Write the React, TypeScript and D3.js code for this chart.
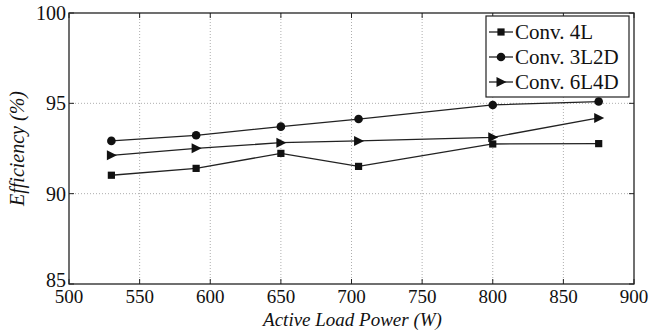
import React from "react";
import * as d3 from "d3";

const powers = [530, 590, 650, 705, 800, 875];
const conv4L = [91.02, 91.4, 92.23, 91.51, 92.75, 92.77];
const conv3L2D = [92.92, 93.23, 93.71, 94.13, 94.91, 95.1];
const conv6L4D = [92.12, 92.51, 92.82, 92.92, 93.12, 94.19];
const seriesNames = ["Conv. 4L", "Conv. 3L2D", "Conv. 6L4D"];
const xTicks = [500, 550, 600, 650, 700, 750, 800, 850, 900];
const yTicks = [85, 90, 95, 100];

const W = 652, H = 330;
const L = 69, R = 634, T = 13, B = 284;
const SERIF = "Liberation Serif";

function Marker({ kind, x, y }: { kind: string; x: number; y: number }) {
  if (kind === "square") return <rect x={x - 3.6} y={y - 3.6} width={7.2} height={7.2} fill="#111" />;
  if (kind === "circle") return <circle cx={x} cy={y} r={4.3} fill="#111" />;
  return <path d={`M${x - 4.5},${y - 5} L${x + 5.5},${y} L${x - 4.5},${y + 5} Z`} fill="#111" />;
}

export default function App() {
  const x = d3.scaleLinear().domain([500, 900]).range([L, R]);
  const y = d3.scaleLinear().domain([85, 100]).range([B, T]);
  const line = d3.line<[number, number]>().x(d => x(d[0])).y(d => y(d[1]));
  const series = [
    { name: seriesNames[0], vals: conv4L, kind: "square" },
    { name: seriesNames[1], vals: conv3L2D, kind: "circle" },
    { name: seriesNames[2], vals: conv6L4D, kind: "triangle" },
  ];
  const legX = 486, legY = 16, legW = 143, legH = 81;
  return (
    <svg width={W} height={H} style={{ position: "absolute", left: 0, top: 0 }}>
      <rect width={W} height={H} fill="#fff" />
      {xTicks.slice(1, -1).map(t => (
        <line key={"gx" + t} x1={x(t)} x2={x(t)} y1={T} y2={B} stroke="#999" strokeWidth={0.8} strokeDasharray="1,2" />
      ))}
      {yTicks.slice(1, -1).map(t => (
        <line key={"gy" + t} x1={L} x2={R} y1={y(t)} y2={y(t)} stroke="#999" strokeWidth={0.8} strokeDasharray="1,2" />
      ))}
      {xTicks.map(t => (
        <g key={"tx" + t}>
          <line x1={x(t)} x2={x(t)} y1={B} y2={B - 5} stroke="#222" />
          <line x1={x(t)} x2={x(t)} y1={T} y2={T + 5} stroke="#222" />
          <text x={x(t)} y={303} textAnchor="middle" fontSize={19} fill="#111" style={{ fontFamily: SERIF }}>{String(t)}</text>
        </g>
      ))}
      {yTicks.map(t => (
        <g key={"ty" + t}>
          <line x1={L} x2={L + 5} y1={y(t)} y2={y(t)} stroke="#222" />
          <line x1={R} x2={R - 5} y1={y(t)} y2={y(t)} stroke="#222" />
          <text x={66} y={y(t) + (t === 85 ? 3 : 7)} textAnchor="end" fontSize={20} fill="#111" style={{ fontFamily: SERIF }}>{String(t)}</text>
        </g>
      ))}
      <rect x={L} y={T} width={R - L} height={B - T} fill="none" stroke="#222" strokeWidth={1.3} />
      {series.map(s => (
        <g key={s.name}>
          <path d={line(powers.map((p, i) => [p, s.vals[i]] as [number, number])) || ""} fill="none" stroke="#222" strokeWidth={1.3} />
          {powers.map((p, i) => <Marker key={i} kind={s.kind} x={x(p)} y={y(s.vals[i])} />)}
        </g>
      ))}
      <rect x={legX} y={legY} width={legW} height={legH} fill="#fff" stroke="#222" strokeWidth={1.2} />
      {series.map((s, i) => {
        const cy = legY + 16 + i * 25;
        return (
          <g key={"leg" + s.name}>
            <line x1={legX + 3} x2={legX + 27} y1={cy} y2={cy} stroke="#222" strokeWidth={1.3} />
            <Marker kind={s.kind} x={legX + 15} y={cy} />
            <text x={legX + 29} y={cy + 7} fontSize={21} fill="#111" style={{ fontFamily: SERIF }}>{s.name}</text>
          </g>
        );
      })}
      <text x={(L + R) / 2 + 1} y={326} textAnchor="middle" fontSize={19} fill="#111" style={{ fontFamily: SERIF, fontStyle: "italic" }}>Active Load Power (W)</text>
      <text transform={`translate(24,${(T + B) / 2}) rotate(-90)`} textAnchor="middle" fontSize={20} fill="#111" style={{ fontFamily: SERIF, fontStyle: "italic" }}>Efficiency (%)</text>
    </svg>
  );
}
